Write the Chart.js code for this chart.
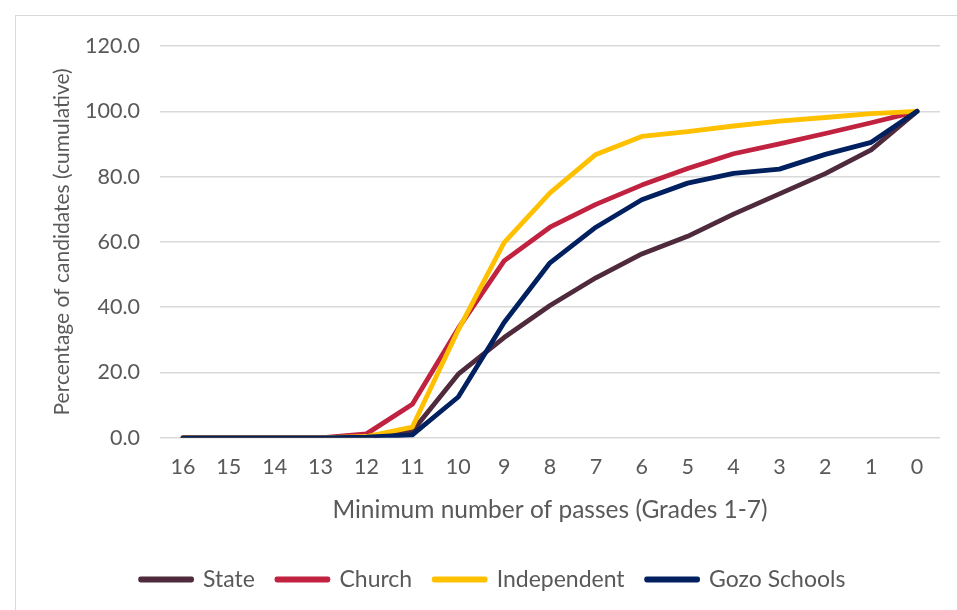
<!DOCTYPE html>
<html>
<head>
<meta charset="utf-8">
<script src="https://cdn.jsdelivr.net/npm/chart.js@4"></script>
<style>
  body { margin: 0; background: #fff; }
  #wrap { position: relative; width: 957px; height: 610px; }
  #frame { position: absolute; left: 15px; top: 15px; width: 960px; height: 620px; border: 1px solid #d9d9d9; }
</style>
</head>
<body>
<div id="wrap">
  <div id="frame"></div>
  <canvas id="chartPasses" width="957" height="610"></canvas>
</div>
<script>
var passes = ['16', '15', '14', '13', '12', '11', '10', '9', '8', '7', '6', '5', '4', '3', '2', '1', '0'];

var state       = [0, 0, 0, 0, 0.3, 2.0, 19.5, 30.7, 40.5, 49.0, 56.3, 61.7, 68.5, 74.7, 80.9, 88.2, 100];
var church      = [0, 0, 0, 0, 1.2, 10.3, 33.5, 54.2, 64.5, 71.5, 77.4, 82.5, 87.0, 90.0, 93.2, 96.5, 100];
var independent = [0, 0, 0, 0, 0.4, 3.3, 33.0, 59.8, 75.0, 86.8, 92.3, 93.8, 95.5, 97.0, 98.1, 99.3, 100];
var gozo        = [0, 0, 0, 0, 0.2, 0.9, 12.5, 35.3, 53.6, 64.5, 72.9, 78.0, 81.0, 82.3, 86.8, 90.5, 100];

var family = 'Lato, "Open Sans", sans-serif';
var grey = '#595959';

function serie(label, data, color, order) {
    return {
        label: label,
        data: data,
        borderColor: color,
        backgroundColor: color,
        borderWidth: 4.8,
        pointRadius: 0,
        borderJoinStyle: 'round',
        borderCapStyle: 'round',
        tension: 0,
        order: order
    };
}

var ctx = document.getElementById('chartPasses');
var myChart = new Chart(ctx, {
    type: 'line',
    data: {
        labels: passes,
        datasets: [
            serie('State', state, '#4e2a3c', 4),
            serie('Church', church, '#c0223f', 3),
            serie('Independent', independent, '#ffc000', 2),
            serie('Gozo Schools', gozo, '#002060', 1)
        ]
    },
    options: {
        responsive: false,
        animation: false,
        layout: { padding: { top: 46, left: 46, right: 17, bottom: 9 } },
        plugins: {
            tooltip: { enabled: false },
            legend: {
                position: 'bottom',
                labels: {
                    font: { family: family, size: 23 },
                    color: grey,
                    boxWidth: 51,
                    boxHeight: 1,
                    padding: 22,
                    sort: function(a, b) { return a.datasetIndex - b.datasetIndex; }
                }
            }
        },
        scales: {
            x: {
                offset: true,
                grid: { display: false, drawTicks: false },
                border: { display: false },
                ticks: { font: { family: family, size: 21.5 }, color: grey, padding: 16, maxRotation: 0 },
                title: {
                    display: true,
                    text: 'Minimum number of passes (Grades 1-7)',
                    font: { family: family, size: 24.5 },
                    color: grey,
                    padding: { top: 0, bottom: 21 }
                }
            },
            y: {
                min: 0,
                max: 120,
                afterFit: function(scale) { scale.width = 114; },
                ticks: {
                    stepSize: 20,
                    font: { family: family, size: 21.5 },
                    color: grey,
                    padding: 20,
                    callback: function(v) { return v.toFixed(1); }
                },
                grid: { color: '#d9d9d9', lineWidth: 1.5, drawTicks: false },
                border: { display: false },
                title: {
                    display: true,
                    text: 'Percentage of candidates (cumulative)',
                    font: { family: family, size: 21 },
                    color: grey,
                    padding: { top: 4, bottom: 11 }
                }
            }
        }
    }
});
</script>
</body>
</html>
